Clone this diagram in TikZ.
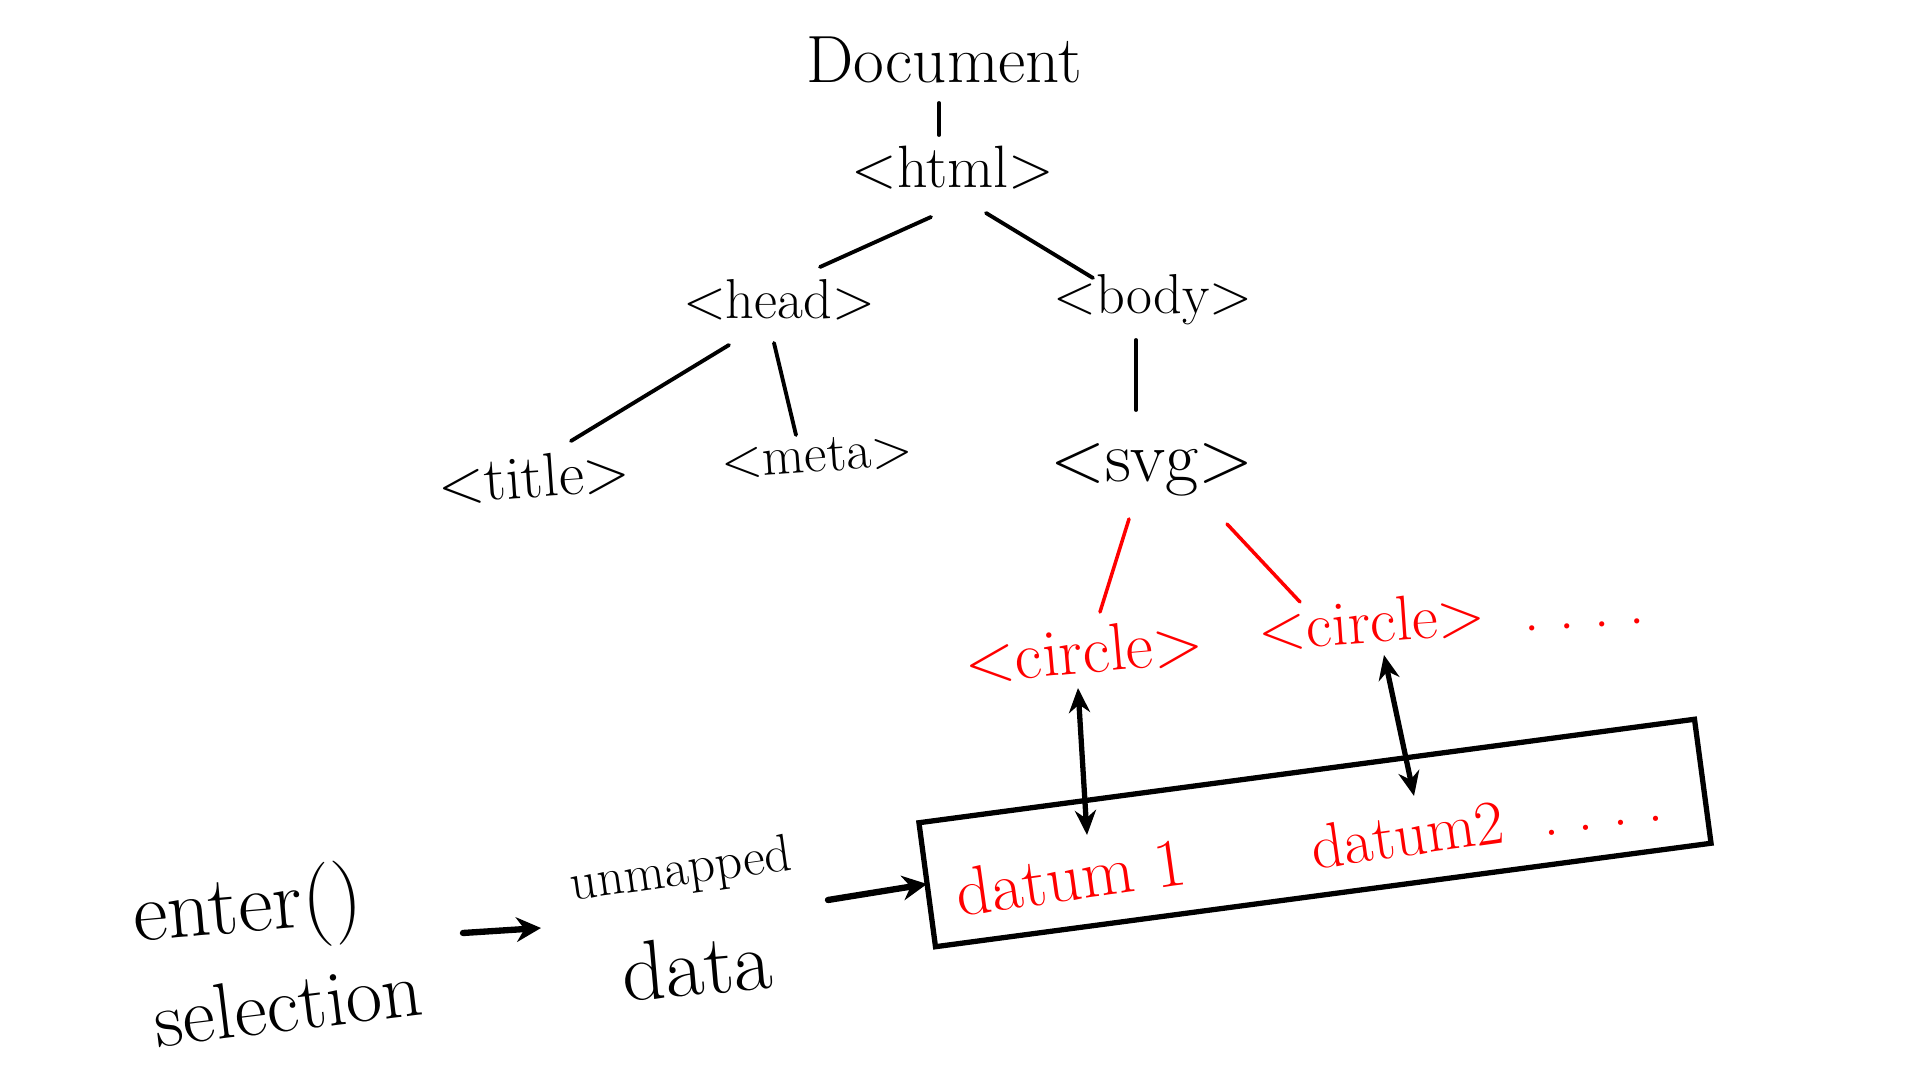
\documentclass[tikz,border=0pt]{standalone}
\usepackage{fontspec}
\usetikzlibrary{arrows.meta}
\tikzset{
  tag/.style={font=\fontsize{16}{18}\selectfont, inner sep=1pt},
  elem/.style={tag, red, font=\fontsize{18}{20}\selectfont},
  note/.style={inner sep=1pt, font=\fontsize{21}{24}\selectfont},
  link/.style={line width=1.1pt, line cap=round},
  redlink/.style={link, red, line width=1pt},
  rowbox/.style={draw, line width=1.5pt, rotate=7.6, minimum width=7.82cm, minimum height=1.25cm},
  bind/.style={line width=1.5pt, {Stealth[length=7pt,width=6pt]}-{Stealth[length=7pt,width=6pt]}},
  flow/.style={line width=1.8pt, line cap=round, -{Stealth[length=7pt,width=7pt]}},
}
\begin{document}
\begin{tikzpicture}[x=0.01cm, y=-0.01cm]
  \useasboundingbox (0,0) rectangle (1920,1080);
  \draw
    (944,60) node[tag, font=\fontsize{19}{22}\selectfont] (doc){Document}
    (953,168) node[tag, font=\fontsize{17}{20}\selectfont] (html){<html>}
    (779,300) node[tag] (head){<head>}
    (1153,300) node[tag] (body){<body>}
    (534,477) node[tag, rotate=4, font=\fontsize{17.5}{20}\selectfont] (title){<title>}
    (817,456) node[tag, rotate=4, font=\fontsize{15.5}{18}\selectfont] (meta){<meta>}
    (1152,470) node[tag, font=\fontsize{20.5}{23}\selectfont] (svg){<svg>}
    (1084,651) node[elem, rotate=5, font=\fontsize{19}{21}\selectfont] (circa){<circle>}
    (1451,616) node[elem, rotate=4] (circb){<circle>\ \ .\ .\ .\ .};
  % data join
  \draw
    (1315,833) node[rowbox] (datarow){}
    (1071,877) node[elem, rotate=8, font=\fontsize{19.5}{22}\selectfont] (datuma){datum 1}
    (1486,823) node[elem, rotate=8] (datumb){datum2\ \ .\ .\ .\ .}
    (248,911) node[note, rotate=5, font=\fontsize{24}{26}\selectfont] (enter){enter()}
    (288,1004) node[note, rotate=7, font=\fontsize{22.5}{25}\selectfont] (selection){selection}
    (681,872) node[note, rotate=8, font=\fontsize{15}{18}\selectfont] (unmapped){unmapped}
    (697,966) node[note, rotate=5, font=\fontsize{24}{26}\selectfont] (data){data};
  \begin{scope}[link]
    \draw ([shift={(-5,43)}]doc.center) to ([shift={(-14,-33)}]html.center);
    \draw ([shift={(-22,49)}]html.center) to ([shift={(41,-33)}]head.center);
    \draw ([shift={(33,45)}]html.center) to ([shift={(-60,-22)}]body.center);
    \draw ([shift={(-50,45)}]head.center) to ([shift={(37,-36)}]title.center);
    \draw ([shift={(-5,43)}]head.center) to ([shift={(-21,-21)}]meta.center);
    \draw ([shift={(-17,40)}]body.center) to ([shift={(-16,-60)}]svg.center);
  \end{scope}
  \begin{scope}[redlink]
    \draw ([shift={(-23,49)}]svg.center) to ([shift={(16,-39)}]circa.center);
    \draw ([shift={(75,54)}]svg.center) to ([shift={(-151,-14)}]circb.center);
  \end{scope}
  \draw[bind] ([shift={(-6,37)}]circa.center) to ([shift={(16,-42)}]datuma.center);
  \draw[bind] ([shift={(-67,39)}]circb.center) to ([shift={(-72,-27)}]datumb.center);
  \draw[flow] ([shift={(215,22)}]enter.center) to ([shift={(-140,56)}]unmapped.center);
  \draw[flow] ([shift={(147,28)}]unmapped.center) to ([shift={(-388,51)}]datarow.center);
\end{tikzpicture}
\end{document}
